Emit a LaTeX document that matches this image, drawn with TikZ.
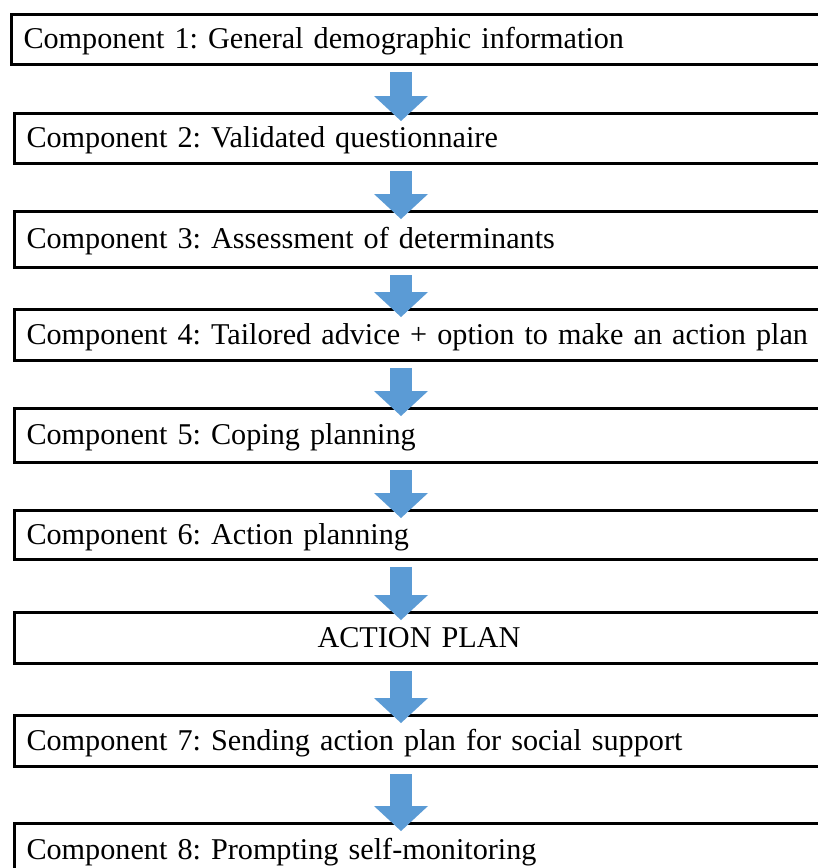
\documentclass[tikz,border=0pt]{standalone}
\usepackage{fontspec}
\setmainfont[WordSpace=0.7]{Liberation Serif}
\usepackage{xcolor}
\usepackage{tikz}
\usetikzlibrary{arrows.meta}
\usetikzlibrary{positioning, calc}
\frenchspacing
\definecolor{flowblue}{RGB}{91,155,213}
\tikzset{
    stepnode/.style = {draw=black, line width=3bp, anchor=north west,
        outer sep=0pt, text width=820bp, align=left,
        inner xsep=12.5bp, inner ysep=0pt,
        text height=21bp, text depth=1.5bp,
        font=\fontsize{30.2bp}{36bp}\selectfont},
    plannode/.style = {stepnode, text width=785bp, align=center},
    flow/.style = {draw=flowblue, line width=22bp,
        -{Triangle[width=54bp, length=25bp, line width=0pt]}},
}

\begin{document}
\begin{tikzpicture}[x=1bp, y=-1bp]
        \fill[white] (0,0) rectangle (818,868);
        \useasboundingbox (0,0) rectangle (818,868);
        \clip (0,0) rectangle (818,868);
        \coordinate (ax) at (401,0);
        \node (c1) [stepnode, minimum height=50bp] at (11,14) {Component 1: General demographic information};
        \node (c2) [stepnode, minimum height=50bp, below=49bp of c1.south west, anchor=north west, xshift=3bp] {Component 2: Validated questionnaire};
        \node (c3) [stepnode, minimum height=56bp, below=48bp of c2.south west, anchor=north west] {Component 3: Assessment of determinants};
        \node (c4) [stepnode, minimum height=51bp, below=42bp of c3.south west, anchor=north west] {Component 4: Tailored advice + option to make an action plan};
        \node (c5) [stepnode, minimum height=54bp, below=48bp of c4.south west, anchor=north west] {Component 5: Coping planning};
        \node (c6) [stepnode, minimum height=49bp, below=48bp of c5.south west, anchor=north west] {Component 6: Action planning};
        \node (plan) [plannode, minimum height=51bp, below=53bp of c6.south west, anchor=north west] {ACTION PLAN};
        \node (c7) [stepnode, minimum height=51bp, below=52bp of plan.south west, anchor=north west] {Component 7: Sending action plan for social support};
        \node (c8) [stepnode, minimum height=54bp, below=57bp of c7.south west, anchor=north west] {Component 8: Prompting self-monitoring};
        % block arrows between the steps
        \draw[flow] ($(c1.south -| ax)+(0,8)$) -- ($(c2.north -| ax)+(0,8)$);
        \draw[flow] ($(c2.south -| ax)+(0,8)$) -- ($(c3.north -| ax)+(0,8)$);
        \draw[flow] ($(c3.south -| ax)+(0,8)$) -- ($(c4.north -| ax)+(0,8)$);
        \draw[flow] ($(c4.south -| ax)+(0,8)$) -- ($(c5.north -| ax)+(0,8)$);
        \draw[flow] ($(c5.south -| ax)+(0,8)$) -- ($(c6.north -| ax)+(0,8)$);
        \draw[flow] ($(c6.south -| ax)+(0,8)$) -- ($(plan.north -| ax)+(0,8)$);
        \draw[flow] ($(plan.south -| ax)+(0,8)$) -- ($(c7.north -| ax)+(0,8)$);
        \draw[flow] ($(c7.south -| ax)+(0,8)$) -- ($(c8.north -| ax)+(0,8)$);
\end{tikzpicture}
\end{document}
